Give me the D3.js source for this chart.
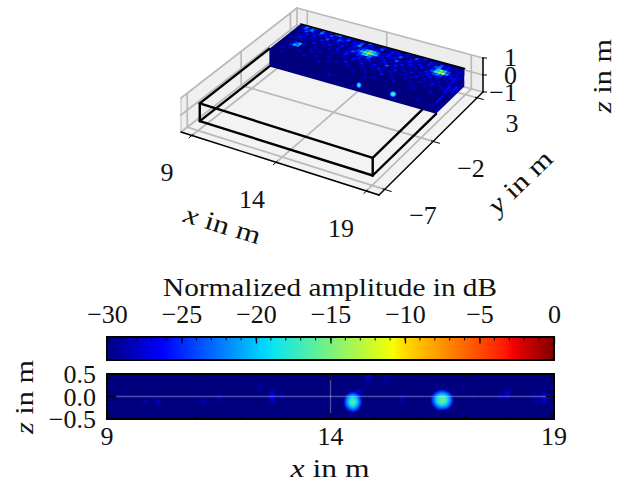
<!DOCTYPE html>
<html><head><meta charset="utf-8">
<script src="https://cdn.jsdelivr.net/npm/d3@7"></script>
<style>
html,body{margin:0;padding:0;background:#fff}
svg{display:block}
text{font-family:"Liberation Serif","DejaVu Serif",serif;fill:#111}
</style></head><body>
<script>
// ---------- data ----------
const xTicks=[9,14,19], yTicks=[-7,-2,3], zTicks=[-1,0,1];
const colorbarMajor=[-30,-25,-20,-15,-10,-5,0];
const colorbarMinor=d3.range(-30,1,1);
const sliceZTicks=[-0.5,0,0.5];
const sliceXMinor=[10,11,12,13,15,16,17,18];
const sliceZMinor=[-0.4,-0.3,-0.2,-0.1,0.1,0.2,0.3,0.4];
const xLim=[8.33,19.67], yLim=[-7.55,3.7], zLim=[-1,1];
const boxX=[9,18.95], boxY=[-6.85,3], boxZ=[-0.52,0.52], sliceY=-0.25;
const jetDomain=[0,0.11,0.125,0.35,0.375,0.64,0.66,0.89,0.91,1];
const jetColors=["#00007f","#0000f0","#0000ff","#00d5ff","#0de5ee","#f6ff00","#ffe000","#ff1a00","#f00000","#7f0000"];
// [x in m, z in m, peak dB, half width x, half width z]
const sliceSpots=[
 [14.62,-0.04,-24,0.08,0.16],[14.5,-0.12,-16,0.15,0.17],[16.44,-0.02,-22,0.13,0.16],[16.5,-0.08,-15,0.19,0.17],
 [9.85,-0.12,-28,0.04,0.06],[10.14,-0.12,-27.5,0.05,0.07],[11.15,-0.1,-28,0.05,0.09],
 [11.5,-0.04,-28,0.06,0.07],[12.4,0.22,-28.5,0.04,0.08],[12.7,0,-26,0.06,0.12],
 [12.9,0,-27.5,0.04,0.06],[14.85,0.42,-27,0.05,0.09],[15.25,0.4,-28.5,0.04,0.09],
 [15.6,-0.05,-27.5,0.03,0.1],[17.2,0,-28.5,0.03,0.05],[17.8,0,-27.5,0.04,0.08],
 [17.95,0.05,-26.5,0.05,0.09],[18.6,-0.07,-28,0.04,0.1],[18.77,-0.03,-26.5,0.06,0.1],[18.5,0,-28.5,0.03,0.07]
];
// speckle on the top face, row 0 at the y=3 edge; digit d means -30 + 2 d dB
const topFaceRows=[
"024132031203401210120310021012002100120011001000",
"013241042130121302130120130021201003110210312010",
"001302120212032101240212210120130021100203412101",
"010120201030120010202356531021200120021012575301",
"001010110201001201113579752101031002102013689420",
"000201010010200100132356420120100201010021343102",
"010010002001010201210221301012012010100102112010",
"000100100100010010200120120010301001020010201001",
"000135100010000100100201001200100200100201010100",
"000254000100100000010100200102001001001000102010",
"000010000010000100002000010010100100010001001001",
"001000010000100000100100001000020010000100010000",
"000000000100000010000010000100000001000010000100",
"000100000000001000000000100000100000000001000010"
];
// speckle on the side face at x=19: rows from z=0.5 down, columns from y=3 to y=0
const sideFaceRows=[
"1210",
"0120",
"1012",
"0100",
"0200",
"1001",
"0100"
];
const title="Normalized amplitude in dB";

// ---------- helpers ----------
const W=622,H=484;
const svg=d3.select("body").append("svg").attr("width",W).attr("height",H);
const defs=svg.append("defs");
defs.append("filter").attr("id","soft").attr("x","-5%").attr("y","-5%").attr("width","110%").attr("height","110%")
  .append("feGaussianBlur").attr("stdDeviation",0.5);
defs.append("filter").attr("id","soft2").attr("x","-5%").attr("y","-5%").attr("width","110%").attr("height","110%")
  .append("feGaussianBlur").attr("stdDeviation",0.9);
const jet=d3.scaleLinear().domain(jetDomain.map(t=>-30+30*t)).range(jetColors).clamp(true);

// ---------- 3D projection: pane corners in pixels, homography from the unit square ----------
const uS=d3.scaleLinear().domain(xLim).range([0,1]);
const vS=d3.scaleLinear().domain(yLim).range([0,1]);
const zS=d3.scaleLinear().domain(zLim).range([0,-34]);
const P0=[181,132],P1=[379,195],P2=[483,92],P3=[297,42];
const H3=(()=>{
  const [x0,y0]=P0,[x1,y1]=P1,[x2,y2]=P2,[x3,y3]=P3;
  const dx1=x1-x2,dx2=x3-x2,dx3=x0-x1+x2-x3,dy1=y1-y2,dy2=y3-y2,dy3=y0-y1+y2-y3;
  const det=dx1*dy2-dx2*dy1;
  const g=(dx3*dy2-dx2*dy3)/det,h=(dx1*dy3-dx3*dy1)/det;
  return {a:x1-x0+g*x1,b:x3-x0+h*x3,c:x0,d:y1-y0+g*y1,e:y3-y0+h*y3,f:y0,g,h};
})();
function proj(x,y,z){
  const u=uS(x),v=vS(y),m=H3,w=m.g*u+m.h*v+1;
  return [(m.a*u+m.b*v+m.c)/w,(m.d*u+m.e*v+m.f)/w+zS(z)];
}
const line3=d3.line();
const seg=(g,a,b,col,wd)=>g.append("path").attr("d",line3([proj(...a),proj(...b)])).attr("fill","none").attr("stroke",col).attr("stroke-width",wd).attr("stroke-linecap","round");
const poly=pts=>line3(pts.map(p=>proj(...p)))+"Z";

const g3=svg.append("g");
const [xa,xb]=xLim,[ya,yb]=yLim,[za,zb]=zLim;
g3.append("path").attr("d",poly([[xa,ya,za],[xb,ya,za],[xb,yb,za],[xa,yb,za]])).attr("fill","#f3f3f3");
g3.append("path").attr("d",poly([[xa,yb,za],[xb,yb,za],[xb,yb,zb],[xa,yb,zb]])).attr("fill","#ededed");
g3.append("path").attr("d",poly([[xa,ya,za],[xa,yb,za],[xa,yb,zb],[xa,ya,zb]])).attr("fill","#f0f0f0");
const gridC="#b9b9b9",gridW=1.7;
xTicks.forEach(x=>{seg(g3,[x,ya,za],[x,yb,za],gridC,gridW);seg(g3,[x,yb,za],[x,yb,zb],gridC,gridW);});
yTicks.forEach(y=>{seg(g3,[xb,y,za],[xa,y,za],gridC,gridW);seg(g3,[xa,y,za],[xa,y,zb],gridC,gridW);});
zTicks.forEach(z=>{seg(g3,[xa,ya,z],[xa,yb,z],gridC,gridW);seg(g3,[xa,yb,z],[xb,yb,z],gridC,gridW);});
seg(g3,[xa,yb,za],[xa,yb,zb],gridC,gridW);
seg(g3,[xb,yb,za],[xb,yb,zb],gridC,gridW);
seg(g3,[xa,ya,za],[xa,ya,zb],gridC,1);
seg(g3,[xa,ya,za],[xb,ya,za],gridC,gridW);

// axis lines and ticks
seg(g3,[xa,ya,za],[xb,ya,za],"#000",1.4);
seg(g3,[xb,ya,za],[xb,yb,za],"#000",1.4);
xTicks.forEach(x=>seg(g3,[x,ya-0.25,za],[x,ya+0.1,za],"#000",1));
yTicks.forEach(y=>seg(g3,[xb+0.35,y,za],[xb-0.1,y,za],"#000",1));
seg(g3,[xb,yb,za],[xb,yb,zb],"#000",1.4);
zTicks.forEach(z=>{const p=proj(xb,yb,z);g3.append("line").attr("x1",p[0]-1).attr("x2",p[0]+4).attr("y1",p[1]).attr("y2",p[1]).attr("stroke","#000").attr("stroke-width",1);});

// box, rear edges
const boxW=2.4;
const [bx0,bx1]=boxX,[by0,by1]=boxY,[bz0,bz1]=boxZ;
seg(g3,[bx0,by0,bz1],[bx0,sliceY,bz1],"#000",boxW);
seg(g3,[bx0,by0,bz0],[bx0,sliceY,bz0],"#000",boxW);
seg(g3,[bx1,by0,bz1],[bx1,sliceY,bz1],"#000",boxW);
seg(g3,[bx1,by0,bz0],[bx1,sliceY,bz0],"#000",boxW);

// heat-map block
const clip3=defs.append("clipPath").attr("id","block");
clip3.append("path").attr("d",line3([[bx0,by1,bz1],[bx1,by1,bz1],[bx1,by1,bz0],[bx1,sliceY,bz0],[bx0,sliceY,bz0],[bx0,sliceY,bz1]].map(p=>proj(...p)))+"Z");
const heat=g3.append("g").attr("clip-path","url(#block)").append("g").attr("filter","url(#soft)");
heat.append("path").attr("d",poly([[bx0-0.3,by1+0.2,bz1],[bx1+0.3,by1+0.2,bz1],[bx1+0.3,sliceY,bz1],[bx0-0.3,sliceY,bz1]])).attr("fill",jet(-30));
heat.append("path").attr("d",poly([[bx0-0.3,sliceY,bz1+0.1],[bx1+0.3,sliceY,bz1+0.1],[bx1+0.3,sliceY,bz0-0.2],[bx0-0.3,sliceY,bz0-0.2]])).attr("fill",jet(-30));
heat.append("path").attr("d",poly([[bx1,sliceY,bz1],[bx1,by1,bz1],[bx1,by1,bz0-0.2],[bx1,sliceY,bz0-0.2]])).attr("fill",jet(-30));
const dbOf=ch=>-30+2*(+ch);
const rowS=d3.scaleLinear().domain([0,topFaceRows.length]).range([by1,sliceY]);
const colS=d3.scaleLinear().domain([0,48]).range([bx0,bx1]);
topFaceRows.forEach((r,i)=>r.split("").forEach((c,j)=>{
  if(c==="0")return;
  heat.append("path").attr("d",poly([[colS(j),rowS(i),bz1],[colS(j+1),rowS(i),bz1],[colS(j+1),rowS(i+1),bz1],[colS(j),rowS(i+1),bz1]])).attr("fill",jet(dbOf(c)));
}));
const sRow=d3.scaleLinear().domain([0,sideFaceRows.length]).range([bz1,bz0]);
const sCol=d3.scaleLinear().domain([0,4]).range([by1,sliceY]);
sideFaceRows.forEach((r,i)=>r.split("").forEach((c,j)=>{
  if(c==="0")return;
  heat.append("path").attr("d",poly([[bx1,sCol(j),sRow(i)],[bx1,sCol(j+1),sRow(i)],[bx1,sCol(j+1),sRow(i+1)],[bx1,sCol(j),sRow(i+1)]])).attr("fill",jet(dbOf(c)));
}));
// spots on the slice face
function drawSpots(sel,place){
  const t=d3.range(0,7);
  sliceSpots.forEach(s=>{
    t.forEach(k=>{
      const f=1-k/7;
      const db=-30+(s[2]+30)*(1-f*f);
      sel.append("path").attr("d",place(s,Math.max(f,0.12))).attr("fill",jet(db));
    });
  });
}
const ell=(cx,cy,rx,ry)=>d3.line().curve(d3.curveCardinalClosed)(d3.range(0,12).map(i=>{const a=i/12*2*Math.PI;return [cx+rx*Math.cos(a),cy+ry*Math.sin(a)];}));
drawSpots(heat,(s,f)=>{
  const c=proj(s[0],sliceY,s[1]),e=proj(s[0]+s[3]*f*1.3,sliceY,s[1]);
  const ry=Math.abs(zS(s[1]+s[4]*f*1.3)-zS(s[1]));
  return ell(c[0],c[1],Math.abs(e[0]-c[0]),ry);
});

// box, front edges
seg(g3,[bx0,by1,bz1],[bx1,by1,bz1],"#000",1.6);
seg(g3,[bx0,by0,bz1],[bx1,by0,bz1],"#000",boxW);
seg(g3,[bx0,by0,bz0],[bx1,by0,bz0],"#000",boxW);
seg(g3,[bx0,by0,bz0],[bx0,by0,bz1],"#000",boxW);
seg(g3,[bx1,by0,bz0],[bx1,by0,bz1],"#000",boxW);

// ---------- text helpers ----------
const FS=26;
function label(x,y,rot,italic,rest,len){
  const t=svg.append("text").attr("text-anchor","middle").attr("transform",`translate(${x},${y}) rotate(${rot})`).attr("font-size",FS)
    .attr("textLength",len).attr("lengthAdjust","spacingAndGlyphs");
  t.append("tspan").attr("font-style","italic").text(italic);
  t.append("tspan").text(rest);
  return t;
}
const num=(x,y,s,anchor)=>svg.append("text").attr("x",x).attr("y",y).attr("text-anchor",anchor||"middle").attr("font-size",FS).text(s);
const fmt=d3.format("d");
[[167,181,9],[252,208,14],[341,237,19]].forEach(d=>num(d[0],d[1],fmt(d[2])));
[[423,224,-7],[471,177,-2],[512,132,3]].forEach(d=>num(d[0],d[1],fmt(d[2])));
[[517,66,1],[517,84,0],[517,101,-1]].forEach(d=>num(d[0],d[1],fmt(d[2]),"end"));
label(220,233,17,"x"," in m",79);
label(526,188,-44,"y"," in m",79);
label(611,76,-90,"z"," in m",74);

// ---------- colourbar ----------
const L=107,R=554;
const cbX=d3.scaleLinear().domain([-30,0]).range([L,R]);
const cbTop=337,cbBot=360;
const cb=svg.append("g");
d3.range(0,447).forEach(i=>{
  cb.append("rect").attr("x",L+i).attr("y",cbTop).attr("width",1.4).attr("height",cbBot-cbTop).attr("fill",jet(cbX.invert(L+i+0.5)));
});
const inTicks=(g,vals,scale,y0,len,wd)=>vals.forEach(v=>g.append("line").attr("x1",scale(v)).attr("x2",scale(v)).attr("y1",y0).attr("y2",y0+len).attr("stroke","#000").attr("stroke-width",wd));
inTicks(cb,colorbarMinor,cbX,cbTop,3.5,1);
const cbAxis=d3.axisTop(cbX).tickValues(colorbarMajor).tickSize(-6.5).tickPadding(0);
cb.append("g").attr("transform",`translate(0,${cbTop})`).call(cbAxis).call(g=>{
  g.select(".domain").remove();
  g.selectAll("line").attr("stroke","#000").attr("stroke-width",1.3);
  g.selectAll("text").attr("font-size",FS).attr("y",-14).attr("dy",0).attr("font-family",null);
});
cb.append("rect").attr("x",L).attr("y",cbTop).attr("width",R-L).attr("height",cbBot-cbTop).attr("fill","none").attr("stroke","#000").attr("stroke-width",2);
svg.append("text").attr("x",330).attr("y",296).attr("text-anchor","middle").attr("font-size",FS).attr("textLength",334).attr("lengthAdjust","spacingAndGlyphs").text(title);

// ---------- slice map ----------
const mTop=374,mBot=419;
const mX=d3.scaleLinear().domain([9,19]).range([L,R]);
const mZ=d3.scaleLinear().domain([-0.5,0.5]).range([mBot,mTop]);
const cm=defs.append("clipPath").attr("id","mapclip");
cm.append("rect").attr("x",L).attr("y",mTop).attr("width",R-L).attr("height",mBot-mTop);
const map=svg.append("g");
const mapIn=map.append("g").attr("clip-path","url(#mapclip)");
mapIn.append("rect").attr("x",L).attr("y",mTop).attr("width",R-L).attr("height",mBot-mTop).attr("fill",jet(-30));
const mapBlur=mapIn.append("g").attr("filter","url(#soft2)");
drawSpots(mapBlur,(s,f)=>ell(mX(s[0]),mZ(s[1]),(mX(s[3]*f*1.5)-mX(0)),(mZ(0)-mZ(s[4]*f*1.5))));
mapIn.append("line").attr("x1",L+9).attr("x2",R).attr("y1",mZ(0)).attr("y2",mZ(0)).attr("stroke","#fff").attr("stroke-opacity",0.3).attr("stroke-width",1.3);
mapIn.append("line").attr("x1",mX(14)).attr("x2",mX(14)).attr("y1",mTop).attr("y2",mBot).attr("stroke","#fff").attr("stroke-opacity",0.3).attr("stroke-width",1.3);
const tc=(g,vals,scale,y0,dir,len,wd)=>vals.forEach(v=>g.append("line").attr("x1",scale(v)).attr("x2",scale(v)).attr("y1",y0).attr("y2",y0+dir*len).attr("stroke","#000").attr("stroke-width",wd));
tc(map,sliceXMinor,mX,mTop,1,3,1);tc(map,sliceXMinor,mX,mBot,-1,3,1);
tc(map,xTicks,mX,mTop,1,6,1.2);tc(map,xTicks,mX,mBot,-1,6,1.2);
sliceZMinor.forEach(v=>{map.append("line").attr("x1",L).attr("x2",L+3).attr("y1",mZ(v)).attr("y2",mZ(v)).attr("stroke","#000");map.append("line").attr("x1",R).attr("x2",R-3).attr("y1",mZ(v)).attr("y2",mZ(v)).attr("stroke","#000");});
sliceZTicks.forEach(v=>{map.append("line").attr("x1",L).attr("x2",L+8).attr("y1",mZ(v)).attr("y2",mZ(v)).attr("stroke","#000").attr("stroke-width",1.2);map.append("line").attr("x1",R).attr("x2",R-8).attr("y1",mZ(v)).attr("y2",mZ(v)).attr("stroke","#000").attr("stroke-width",1.2);});
map.append("rect").attr("x",L).attr("y",mTop).attr("width",R-L).attr("height",mBot-mTop).attr("fill","none").attr("stroke","#000").attr("stroke-width",2);
xTicks.forEach(v=>num(mX(v),445,fmt(v)));
const f1=d3.format(".1f");
sliceZTicks.forEach(v=>num(96,mZ(v)+9,f1(v).replace("-","−"),"end"));
label(330,477,0,"x"," in m",79);
label(33,397,-90,"z"," in m",74);
</script>
</body></html>
